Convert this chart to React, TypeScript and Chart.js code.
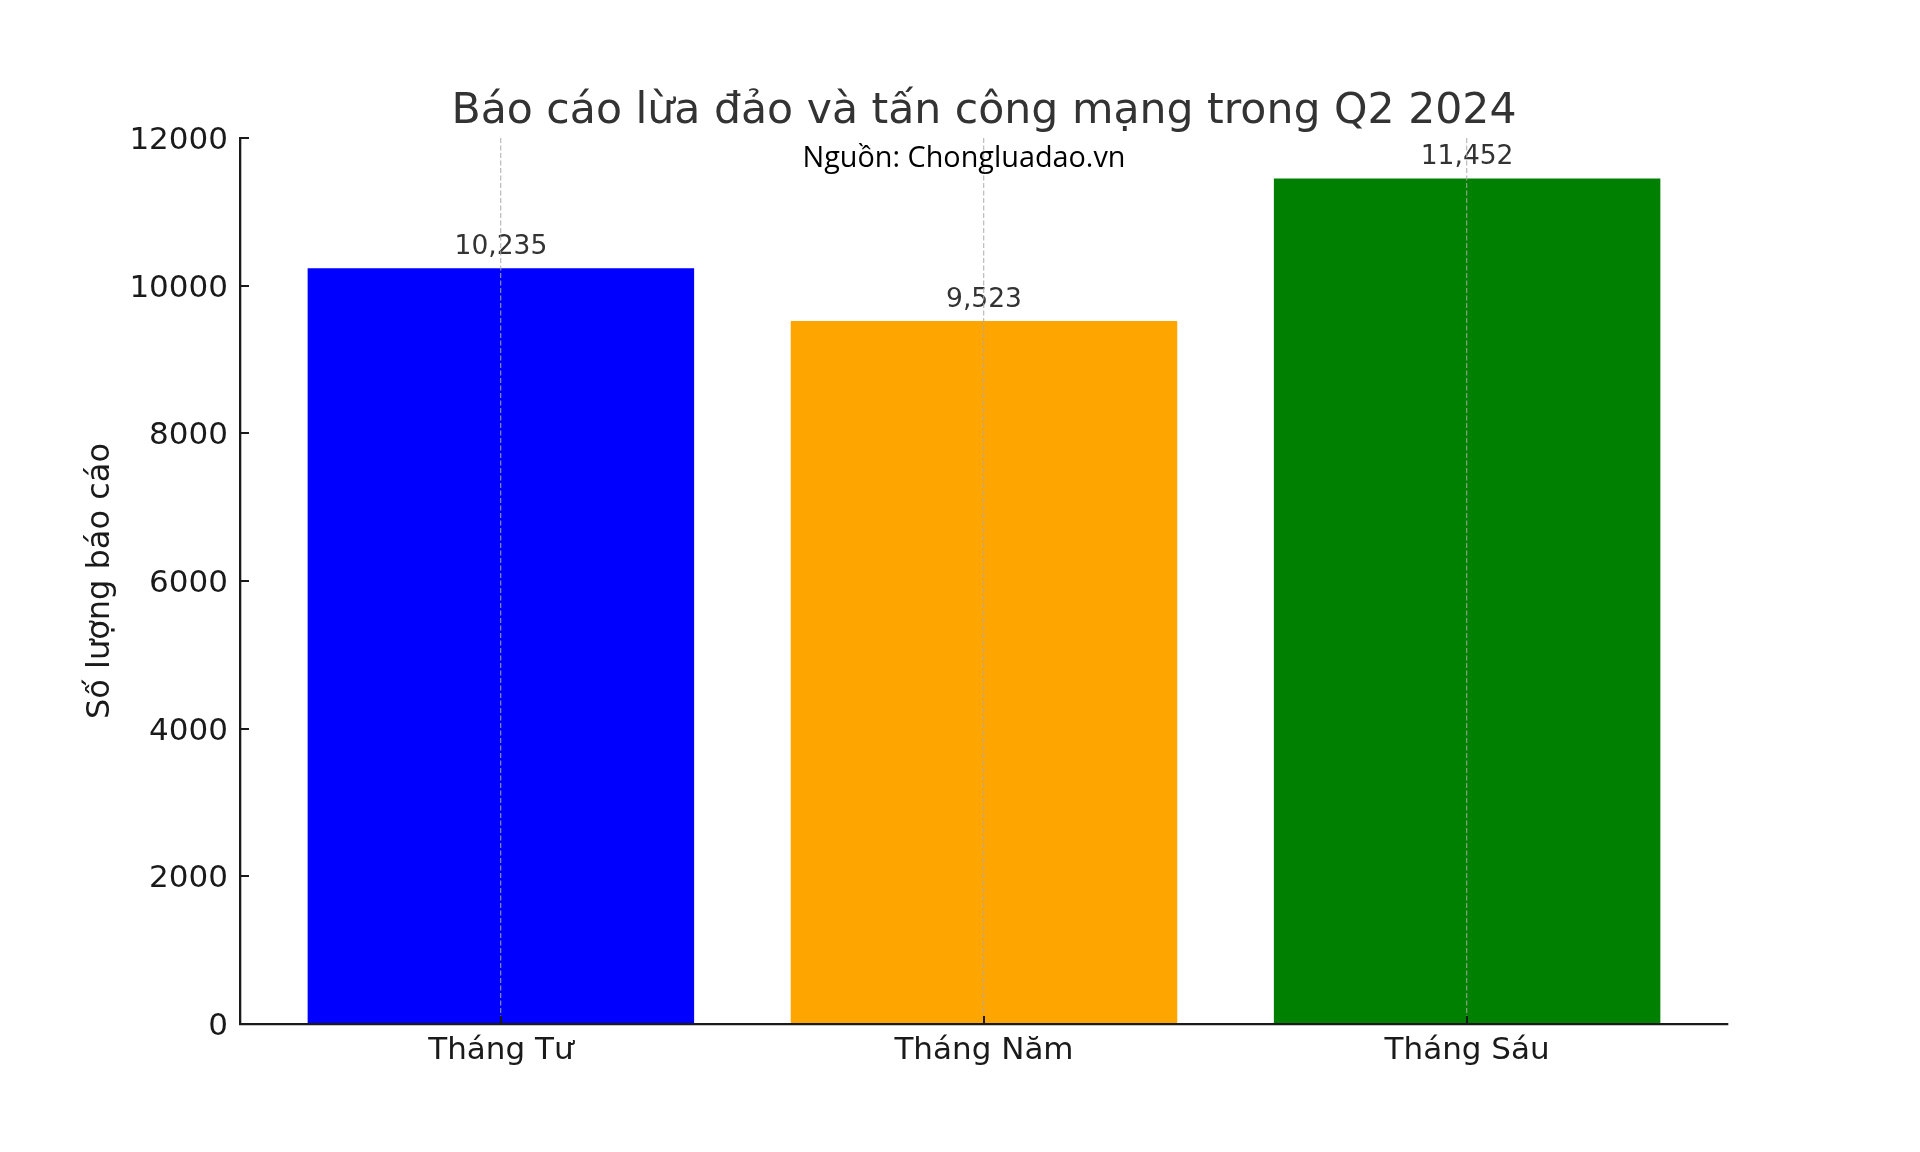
import React, { useEffect, useRef } from 'react';
import { Chart, registerables } from 'chart.js';

Chart.register(...registerables);

const months = ['Tháng Tư', 'Tháng Năm', 'Tháng Sáu'];
const reports = [10235, 9523, 11452];
const barColors = ['#0000ff', '#ffa500', '#008000'];
const yTicks = [0, 2000, 4000, 6000, 8000, 10000, 12000];

const chartTitle = 'Báo cáo lừa đảo và tấn công mạng trong Q2 2024';
const sourceNote = 'Nguồn: Chongluadao.vn';
const yTitle = 'Số lượng báo cáo';

const FONT = "'DejaVu Sans', sans-serif";

// matplotlib-style extras: titles, value labels, inward tick marks
const decorPlugin = {
  id: 'decor',
  afterDatasetsDraw: (chart: Chart) => {
    const ctx = chart.ctx;
    const meta = chart.getDatasetMeta(0);

    ctx.save();
    // value labels above bars
    ctx.font = `26.5px ${FONT}`;
    ctx.fillStyle = '#333333';
    ctx.textAlign = 'center';
    ctx.textBaseline = 'alphabetic';
    meta.data.forEach((bar: any, i: number) => {
      ctx.fillText(reports[i].toLocaleString('en-US'), bar.x, bar.y - 14);
    });
    ctx.restore();
  },
  afterDraw: (chart: Chart) => {
    const ctx = chart.ctx;
    const area = chart.chartArea;
    const x = chart.scales.x;
    const y = chart.scales.y;

    ctx.save();
    // inward tick marks
    ctx.strokeStyle = '#1a1a1a';
    ctx.lineWidth = 2;
    ctx.beginPath();
    yTicks.forEach((v) => {
      const py = Math.round(y.getPixelForValue(v));
      ctx.moveTo(area.left, py);
      ctx.lineTo(area.left + 9, py);
    });
    months.forEach((_, i) => {
      const px = Math.round(x.getPixelForValue(i));
      ctx.moveTo(px, area.bottom);
      ctx.lineTo(px, area.bottom - 8);
    });
    ctx.stroke();

    const cx = (area.left + area.right) / 2;

    // title
    ctx.font = `42.6px ${FONT}`;
    ctx.fillStyle = '#333333';
    ctx.textAlign = 'center';
    ctx.textBaseline = 'alphabetic';
    ctx.fillText(chartTitle, cx, area.top - 15);

    // source note
    ctx.font = "28.8px 'Open Sans', sans-serif";
    ctx.fillStyle = '#000000';
    ctx.fillText(sourceNote, cx - 20, area.top + 29);

    // y axis title
    ctx.translate(area.left - 139, (area.top + area.bottom) / 2);
    ctx.rotate(-Math.PI / 2);
    ctx.font = `32px ${FONT}`;
    ctx.fillStyle = '#1a1a1a';
    ctx.textBaseline = 'middle';
    ctx.fillText(yTitle, 0, 0);
    ctx.restore();
  },
};

const App: React.FC = () => {
  const canvasRef = useRef<HTMLCanvasElement>(null);
  const chartRef = useRef<Chart | null>(null);

  useEffect(() => {
    document.body.style.margin = '0';
    if (!canvasRef.current) return;
    if (chartRef.current) chartRef.current.destroy();

    chartRef.current = new Chart(canvasRef.current, {
      type: 'bar',
      data: {
        datasets: [
          {
            data: reports.map((v, i) => ({ x: i, y: v })),
            backgroundColor: barColors,
            borderWidth: 0,
            categoryPercentage: 1,
            barPercentage: 0.8,
          },
        ],
      },
      options: {
        responsive: true,
        maintainAspectRatio: false,
        devicePixelRatio: 1,
        animation: false,
        layout: { padding: { left: 0, top: 138, right: 192, bottom: 68 } },
        plugins: {
          legend: { display: false },
          tooltip: { enabled: false },
          title: { display: false },
        },
        scales: {
          x: {
            type: 'linear',
            min: -0.54,
            max: 2.54,
            offset: false,
            afterBuildTicks: (scale: any) => {
              scale.ticks = months.map((_, i) => ({ value: i }));
            },
            afterFit: (scale: any) => {
              scale.height = 60;
            },
            grid: {
              display: true,
              offset: false,
              drawTicks: false,
              color: 'rgba(170, 170, 170, 0.75)',
              lineWidth: 1.3,
              z: 1,
            },
            border: { display: true, color: '#1a1a1a', width: 2.3, z: 1, dash: [5, 2.5] },
            ticks: {
              padding: 8,
              color: '#1a1a1a',
              font: { family: FONT, size: 31 },
              maxRotation: 0,
              callback: (value: any) => months[Number(value)] ?? '',
            },
          },
          y: {
            type: 'linear',
            min: 0,
            max: 12000,
            afterBuildTicks: (scale: any) => {
              scale.ticks = yTicks.map((v) => ({ value: v }));
            },
            afterFit: (scale: any) => {
              scale.width = 240;
            },
            grid: { display: false, drawTicks: false },
            border: { display: true, color: '#1a1a1a', width: 2.3, z: 1 },
            ticks: {
              padding: 12,
              labelOffset: 3,
              color: '#1a1a1a',
              font: { family: FONT, size: 31 },
              callback: (value: any) => String(value),
            },
          },
        },
      },
      plugins: [decorPlugin],
    } as any);

    return () => {
      if (chartRef.current) {
        chartRef.current.destroy();
        chartRef.current = null;
      }
    };
  }, []);

  return (
    <div style={{ width: '1920px', height: '1152px', position: 'relative', background: '#ffffff' }}>
      <canvas ref={canvasRef}></canvas>
    </div>
  );
};

export default App;
